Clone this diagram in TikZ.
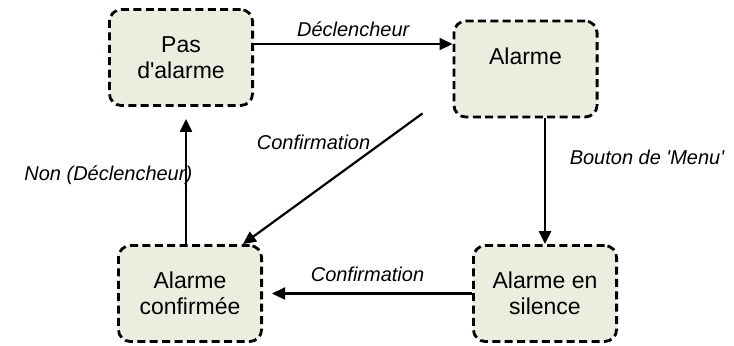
\documentclass[tikz,border=0pt]{standalone}
\usepackage{fontspec}
\setmainfont{Liberation Sans}
\usetikzlibrary{arrows.meta,calc}
\definecolor{BoxFill}{HTML}{EBEEDE}
\tikzset{
  etat/.style={draw=black, dash pattern=on 4pt off 2.2pt, line width=1.4pt,
    rounded corners=6pt, fill=BoxFill, minimum width=71.6pt, minimum height=48pt,
    align=center, inner sep=2pt, font=\fontsize{11.5}{13}\selectfont},
  trans/.style={-{Triangle[length=6.5pt,width=6pt]}, line width=1.1pt},
  etiq/.style={font=\fontsize{10}{12}\selectfont\itshape},
}

\begin{document}
\begin{tikzpicture}[x=0.5pt, y=-0.5pt]
  \useasboundingbox (0,0) rectangle (734,345);
  \node[etat] (pas) at (181,57.5) {Pas\\d\textquotesingle alarme};
  \node[etat] (alarme) at (525.5,69) {Alarme\\\phantom{Alarme}};
  \node[etat] (confirmee) at (190,293.5) {Alarme\\confirmée};
  \node[etat] (silence) at (545,293.5) {Alarme en\\silence};
  \coordinate (diag) at ($(alarme.south west)+(-30,-5)$);

  \draw[trans] ([yshift=6.75pt]pas.east) -- node[above, etiq]{Déclencheur}
    ([yshift=6.75pt]pas.east -| alarme.west);
  \draw[trans] (alarme.south -| silence.north) -- node[pos=0.31, right=8.5pt, etiq]{Bouton de \textquotesingle Menu\textquotesingle}
    (silence.north);
  \draw[trans, shorten >=4.5pt] (silence) -- node[above=2pt, etiq]{Confirmation} (confirmee);
  \draw[trans] (diag) -- node[pos=0.22, left, xshift=-2.5pt, etiq]{Confirmation} (confirmee.43);
  \draw[trans, shorten >=6pt] ([xshift=-2pt]confirmee.north) -- node[midway, left, xshift=7pt, etiq]{Non (Déclencheur)}
    ([xshift=-2pt]confirmee.north |- pas.south);
\end{tikzpicture}
\end{document}
